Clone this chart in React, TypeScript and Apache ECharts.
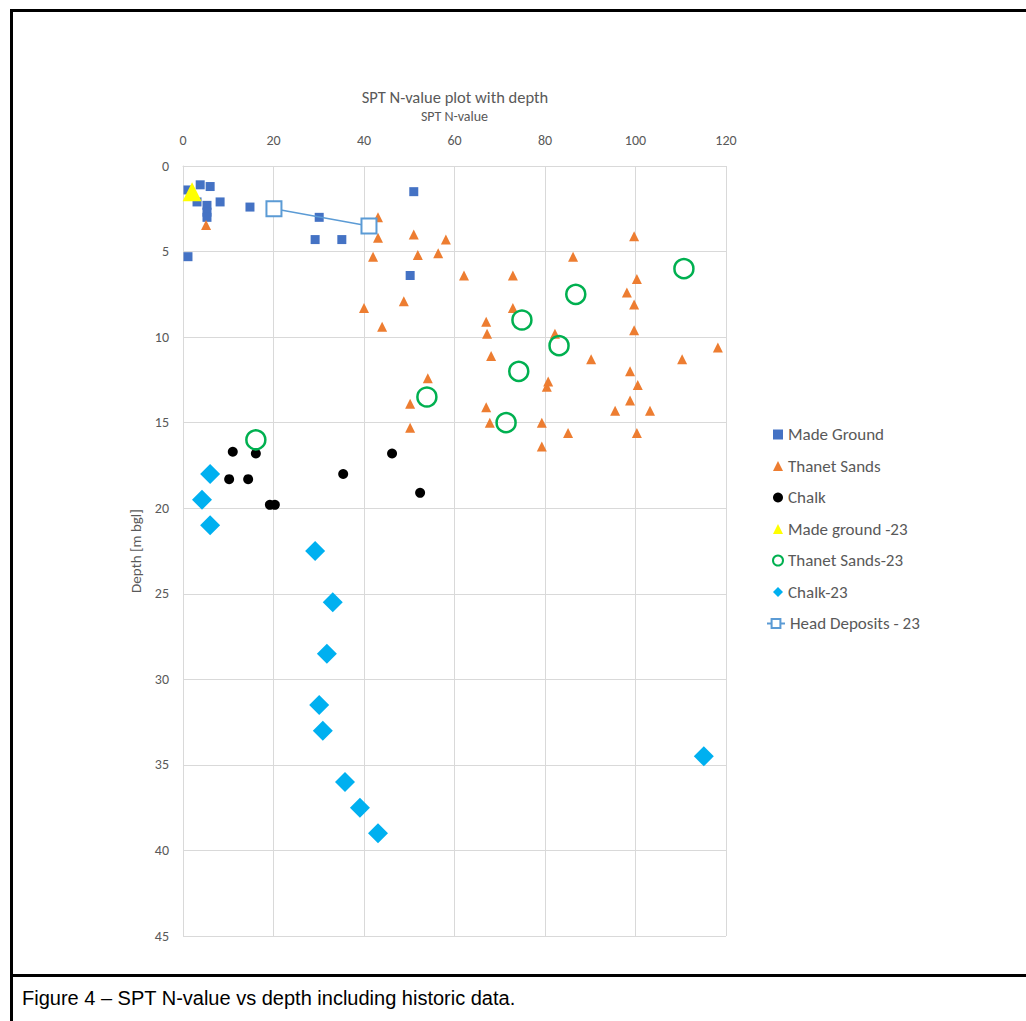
import React, { useEffect, useRef } from "react";
import * as echarts from "echarts";

const xTicks = [0, 20, 40, 60, 80, 100, 120];
const yTicks = [0, 5, 10, 15, 20, 25, 30, 35, 40, 45];

// [SPT N-value, depth m bgl]
const madeGround: number[][] = [
  [1.1, 1.4], [3.1, 2.1], [3.8, 1.1], [6.0, 1.2], [5.3, 2.3], [5.3, 2.7], [5.3, 3.0],
  [8.2, 2.1], [14.8, 2.4], [30.1, 3.0], [29.2, 4.3], [35.1, 4.3], [1.1, 5.3],
  [51.0, 1.5], [50.2, 6.4], [40.6, 3.3],
];
const thanetSands: number[][] = [
  [5.1, 3.45], [43.1, 3.0], [43.1, 4.2], [42.0, 5.3], [51.0, 4.0], [51.9, 5.2],
  [56.4, 5.1], [58.1, 4.3], [40.0, 8.3], [48.8, 7.9], [44.0, 9.4], [62.1, 6.4],
  [72.9, 6.4], [72.9, 8.3], [67.0, 9.1], [67.2, 9.8], [68.1, 11.1], [54.1, 12.4],
  [50.2, 13.9], [50.2, 15.3], [67.0, 14.1], [67.8, 15.0], [79.3, 15.0], [79.3, 16.4],
  [80.4, 12.9], [80.7, 12.6], [99.7, 4.1], [86.2, 5.3], [100.3, 6.6], [98.1, 7.4],
  [99.7, 8.1], [99.7, 9.6], [82.2, 9.8], [118.2, 10.6], [90.2, 11.3], [110.3, 11.3],
  [98.8, 12.0], [100.5, 12.8], [98.8, 13.7], [95.5, 14.3], [103.2, 14.3],
  [85.1, 15.6], [100.3, 15.6],
];
const chalk: number[][] = [
  [11.0, 16.7], [16.1, 16.8], [10.2, 18.3], [14.4, 18.3], [35.4, 18.0],
  [46.2, 16.8], [52.4, 19.1], [19.2, 19.8], [20.3, 19.8],
];
const madeGround23: number[][] = [[2.0, 1.5]];
const thanetSands23: number[][] = [
  [110.7, 6.0], [86.8, 7.5], [74.9, 9.0], [83.1, 10.5], [74.2, 12.0],
  [53.9, 13.5], [71.4, 15.0], [16.1, 16.0],
];
const chalk23: number[][] = [
  [6.0, 18.0], [4.2, 19.5], [6.0, 21.0], [29.2, 22.5], [33.1, 25.5], [31.8, 28.5],
  [30.1, 31.5], [30.9, 33.0], [115.1, 34.5], [35.8, 36.0], [39.1, 37.5], [43.1, 39.0],
];
const headDeposits23: number[][] = [[20.1, 2.5], [41.1, 3.5]];

const FONT = "Carlito, 'DejaVu Sans Condensed', 'Liberation Sans Narrow', 'Open Sans', sans-serif";
const GREY = "#595959";
const legendText = { fontFamily: FONT, fontSize: 17, color: GREY };

export default function App() {
  const ref = useRef<HTMLDivElement>(null);
  useEffect(() => {
    if (!ref.current) return;
    const chart = echarts.init(ref.current, undefined, { renderer: "svg" });
    chart.setOption({
      animation: false,
      backgroundColor: "#ffffff",
      title: {
        text: "SPT N-value plot with depth",
        left: 455,
        top: 88,
        padding: 0,
        textAlign: "center",
        textStyle: { fontFamily: FONT, fontSize: 16.5, fontWeight: "normal", color: GREY },
      },
      grid: { left: 183, top: 166, width: 543, height: 770 },
      xAxis: {
        type: "value",
        position: "top",
        min: 0,
        max: 120,
        interval: 20,
        name: "SPT N-value",
        nameLocation: "middle",
        nameGap: 43,
        nameTextStyle: { fontFamily: FONT, fontSize: 14, color: GREY },
        axisLine: { show: true, lineStyle: { color: "#d9d9d9" } },
        axisTick: { show: false },
        axisLabel: { fontFamily: FONT, fontSize: 14, color: GREY, margin: 19 },
        splitLine: { show: true, lineStyle: { color: "#d9d9d9" } },
      },
      yAxis: {
        type: "value",
        inverse: true,
        min: 0,
        max: 45,
        interval: 5,
        name: "Depth [m bgl]",
        nameLocation: "middle",
        nameGap: 40,
        nameRotate: 90,
        nameTextStyle: { fontFamily: FONT, fontSize: 15, color: GREY },
        axisLine: { show: true, lineStyle: { color: "#d9d9d9" } },
        axisTick: { show: false },
        axisLabel: { fontFamily: FONT, fontSize: 14, color: GREY, margin: 14 },
        splitLine: { show: true, lineStyle: { color: "#d9d9d9" } },
      },
      legend: [
        {
          orient: "vertical",
          left: 767,
          top: 421,
          itemGap: 14.5,
          itemWidth: 10,
          itemHeight: 10,
          textStyle: legendText,
          data: [
            { name: "Made Ground", icon: "rect" },
            { name: "Thanet Sands", icon: "triangle" },
            { name: "Chalk", icon: "circle" },
            { name: "Made ground -23", icon: "triangle" },
            {
              name: "Thanet Sands-23",
              icon: "circle",
              itemStyle: { color: "#ffffff", borderColor: "#00B050", borderWidth: 2 },
            },
            { name: "Chalk-23", icon: "diamond" },
          ],
        },
        {
          orient: "vertical",
          left: 761,
          top: 610,
          itemWidth: 18,
          itemHeight: 11,
          textStyle: legendText,
          data: [{ name: "Head Deposits - 23" }],
        },
      ],
      series: [
        {
          name: "Made Ground",
          type: "scatter",
          symbol: "rect",
          symbolSize: 9,
          itemStyle: { color: "#4472C4", opacity: 1 },
          data: madeGround,
          z: 3,
        },
        {
          name: "Thanet Sands",
          type: "scatter",
          symbol: "triangle",
          symbolSize: 10,
          itemStyle: { color: "#ED7D31", opacity: 1 },
          data: thanetSands,
          z: 3,
        },
        {
          name: "Chalk",
          type: "scatter",
          symbol: "circle",
          symbolSize: 10,
          itemStyle: { color: "#000000", opacity: 1 },
          data: chalk,
          z: 3,
        },
        {
          name: "Made ground -23",
          type: "scatter",
          symbol: "triangle",
          symbolSize: 19,
          itemStyle: { color: "#FFFF00", opacity: 1 },
          data: madeGround23,
          z: 4,
        },
        {
          name: "Thanet Sands-23",
          type: "scatter",
          symbol: "circle",
          symbolSize: 19,
          itemStyle: { color: "rgba(255,255,255,0)", borderColor: "#00B050", borderWidth: 2.5, opacity: 1 },
          data: thanetSands23,
          z: 4,
        },
        {
          name: "Chalk-23",
          type: "scatter",
          symbol: "diamond",
          symbolSize: 20,
          itemStyle: { color: "#00B0F0", opacity: 1 },
          data: chalk23,
          z: 4,
        },
        {
          name: "Head Deposits - 23",
          type: "line",
          symbol: "emptyRect",
          symbolSize: 15,
          showSymbol: true,
          lineStyle: { color: "#5B9BD5", width: 1.5 },
          itemStyle: { color: "#5B9BD5", borderColor: "#5B9BD5", borderWidth: 3 },
          data: headDeposits23,
          z: 5,
        },
      ],
      graphic: [
        { type: "rect", shape: { x: 10, y: 9, width: 1030, height: 3 }, style: { fill: "#000" } },
        { type: "rect", shape: { x: 10, y: 9, width: 3, height: 1020 }, style: { fill: "#000" } },
        { type: "rect", shape: { x: 10, y: 974, width: 1030, height: 3 }, style: { fill: "#000" } },
        {
          type: "text",
          x: 22,
          y: 998,
          style: {
            text: "Figure 4 – SPT N-value vs depth including historic data.",
            fontFamily: "'Liberation Sans', Arial, sans-serif",
            fontSize: 20,
            fill: "#000",
            textVerticalAlign: "middle",
          },
        },
      ],
    });
    return () => chart.dispose();
  }, []);
  return (
    <div
      ref={ref}
      style={{ position: "absolute", left: 0, top: 0, width: 1026, height: 1021 }}
    />
  );
}
